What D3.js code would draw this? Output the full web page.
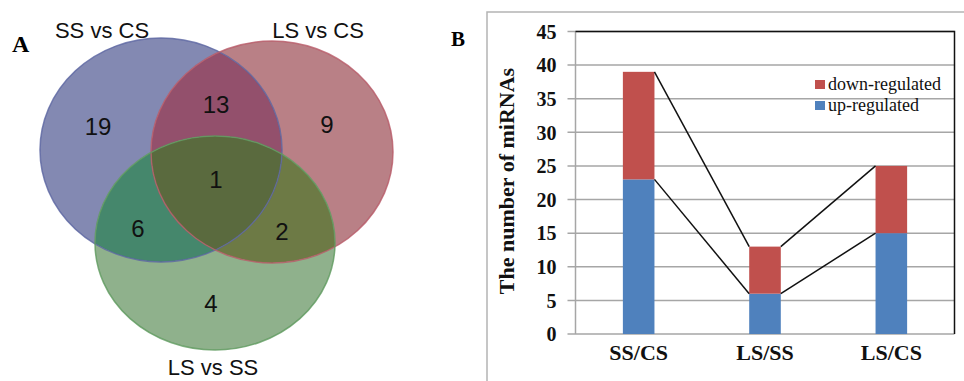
<!DOCTYPE html>
<html>
<head>
<meta charset="utf-8">
<script src="https://cdn.jsdelivr.net/npm/d3@7"></script>
<style>
  body { margin: 0; background: #fff; }
  svg { display: block; }
  .venn-label { font-family: "Liberation Sans", Arial, sans-serif; font-size: 22px; fill: #111; }
  .venn-count { font-family: "Liberation Sans", Arial, sans-serif; font-size: 24px; fill: #111; }
  .panel-tag { font-family: "Liberation Serif", "Times New Roman", serif; font-weight: bold; }
  .serif-b { font-family: "Liberation Serif", "Times New Roman", serif; font-weight: bold; }
  .serif { font-family: "Liberation Serif", "Times New Roman", serif; }
</style>
</head>
<body>
<svg id="chart" width="964" height="381"></svg>
<script>
// Venn diagram (panel A)
const vennSets = ["SS vs CS", "LS vs CS", "LS vs SS"];
const vennRegions = [[0], [1], [2], [0, 1], [0, 2], [1, 2], [0, 1, 2]];
const vennCounts = [19, 9, 4, 13, 6, 2, 1];

// Stacked bars (panel B)
const categories = ["SS/CS", "LS/SS", "LS/CS"];
const upRegulated = [23, 6, 15];
const downRegulated = [16, 7, 10];
const seriesNames = ["up-regulated", "down-regulated"];
const yTicks = [0, 5, 10, 15, 20, 25, 30, 35, 40, 45];

const svg = d3.select("#chart");
const defs = svg.append("defs");

// ---------- panel A ----------
const ellipses = [
  {cx: 161, cy: 150, rx: 121, ry: 112, stroke: "#5a64a0"},
  {cx: 272, cy: 152, rx: 121, ry: 111, stroke: "#b85a68"},
  {cx: 215, cy: 243, rx: 120, ry: 107, stroke: "#5e9a5e"}
];
// fill of each region, same order as vennRegions
const regionFill = ["#8389b2", "#b98086", "#8fb18c", "#93506c", "#45876c", "#6d7a45", "#5a6a3e"];
// where each count sits (centre x, baseline y)
const countPos = [[98, 135], [327, 133], [211, 312], [216, 113], [138, 237], [282, 240], [216, 188]];
const labelPos = [[102, 38], [318, 38], [213, 375]];

ellipses.forEach((e, i) => {
  defs.append("clipPath").attr("id", "clip-" + i)
    .append("ellipse").attr("cx", e.cx).attr("cy", e.cy).attr("rx", e.rx).attr("ry", e.ry);
  const m = defs.append("mask").attr("id", "not-" + i)
    .attr("maskUnits", "userSpaceOnUse").attr("x", 0).attr("y", 0).attr("width", 964).attr("height", 381);
  m.append("rect").attr("width", 964).attr("height", 381).attr("fill", "#fff");
  m.append("ellipse").attr("cx", e.cx).attr("cy", e.cy).attr("rx", e.rx).attr("ry", e.ry).attr("fill", "#000");
});

const venn = svg.append("g");
vennRegions.forEach((inside, r) => {
  const outside = [0, 1, 2].filter(k => !inside.includes(k));
  let g = venn.append("g");
  inside.slice(1).forEach(k => { g = g.append("g").attr("clip-path", `url(#clip-${k})`); });
  outside.forEach(k => { g = g.append("g").attr("mask", `url(#not-${k})`); });
  const e = ellipses[inside[0]];
  g.append("ellipse").attr("cx", e.cx).attr("cy", e.cy).attr("rx", e.rx).attr("ry", e.ry)
    .attr("fill", regionFill[r]);
});

venn.selectAll(".outline").data(ellipses).enter().append("ellipse")
  .attr("class", "outline")
  .attr("cx", d => d.cx).attr("cy", d => d.cy).attr("rx", d => d.rx).attr("ry", d => d.ry)
  .attr("fill", "none").attr("stroke", d => d.stroke).attr("stroke-width", 1.5).attr("stroke-opacity", 0.8);

venn.selectAll(".venn-count").data(vennCounts).enter().append("text")
  .attr("class", "venn-count")
  .attr("x", (d, i) => countPos[i][0]).attr("y", (d, i) => countPos[i][1])
  .attr("text-anchor", "middle")
  .text(d => d);

venn.selectAll(".venn-label").data(vennSets).enter().append("text")
  .attr("class", "venn-label")
  .attr("x", (d, i) => labelPos[i][0]).attr("y", (d, i) => labelPos[i][1])
  .attr("text-anchor", "middle")
  .text(d => d);

svg.append("text").attr("class", "panel-tag").attr("font-size", 24).attr("x", 12).attr("y", 52).text("A");

// ---------- panel B ----------
svg.append("text").attr("class", "panel-tag").attr("font-size", 21).attr("x", 451).attr("y", 46).text("B");

// outer frame
svg.append("path").attr("d", "M487,381V12H964")
  .attr("fill", "none").attr("stroke", "#b4b4b4").attr("stroke-width", 1.5);

const plot = {left: 575.5, right: 954.5, top: 31.5, bottom: 334};

const x = d3.scaleBand().domain(categories)
  .range([plot.left, plot.right]).paddingInner(0.75).paddingOuter(0.375);
const y = d3.scaleLinear().domain([0, 45]).range([plot.bottom, plot.top]);

const grid = svg.append("g");
grid.selectAll("line").data(yTicks).enter().append("line")
  .attr("x1", plot.left - 8).attr("x2", plot.right)
  .attr("y1", d => y(d)).attr("y2", d => y(d))
  .attr("stroke", "#a6a6a6").attr("stroke-width", 1.5);
// left axis
svg.append("line").attr("x1", plot.left).attr("x2", plot.left)
  .attr("y1", plot.top).attr("y2", plot.bottom)
  .attr("stroke", "#a6a6a6").attr("stroke-width", 1.5);
// top and right border
svg.append("path").attr("d", `M${plot.left},${plot.top}H${plot.right}V${plot.bottom}`)
  .attr("fill", "none").attr("stroke", "#111").attr("stroke-width", 1.5);

const yAxis = svg.append("g").attr("transform", `translate(${plot.left - 19},0)`)
  .call(d3.axisLeft(y).tickValues(yTicks).tickSize(0).tickPadding(0));
yAxis.select(".domain").remove();
yAxis.selectAll("text").attr("class", "serif-b").attr("font-size", 20).attr("fill", "#111")
  .attr("dy", "0.34em");

const table = categories.map((c, i) => ({cat: c, "up-regulated": upRegulated[i], "down-regulated": downRegulated[i]}));
const stacked = d3.stack().keys(seriesNames)(table);
const colors = {"up-regulated": "#4f81bd", "down-regulated": "#c0504d"};

svg.append("g").selectAll("g").data(stacked).enter().append("g")
  .attr("fill", d => colors[d.key])
  .selectAll("rect").data(d => d).enter().append("rect")
  .attr("x", d => x(d.data.cat))
  .attr("width", x.bandwidth())
  .attr("y", d => y(d[1]))
  .attr("height", d => y(d[0]) - y(d[1]));

// connecting lines between the tops of each segment
const links = svg.append("g");
stacked.forEach(s => {
  for (let i = 0; i < categories.length - 1; i++) {
    links.append("line")
      .attr("x1", x(categories[i]) + x.bandwidth()).attr("y1", y(s[i][1]))
      .attr("x2", x(categories[i + 1])).attr("y2", y(s[i + 1][1]))
      .attr("stroke", "#111").attr("stroke-width", 1.5);
  }
});

const xAxis = svg.append("g").attr("transform", `translate(0,${plot.bottom + 26})`)
  .call(d3.axisBottom(x).tickSize(0).tickPadding(0));
xAxis.select(".domain").remove();
xAxis.selectAll("text").attr("class", "serif-b").attr("font-size", 22).attr("fill", "#111")
  .attr("dy", 0);

svg.append("text").attr("class", "serif-b").attr("font-size", 22).attr("fill", "#111")
  .attr("text-anchor", "middle")
  .attr("transform", `translate(514,181) rotate(-90)`)
  .text("The number of miRNAs");

// legend, down-regulated listed first
const legend = svg.append("g").selectAll("g").data(seriesNames.slice().reverse()).enter().append("g")
  .attr("transform", (d, i) => `translate(815,${80 + i * 21})`);
legend.append("rect").attr("width", 10).attr("height", 9).attr("fill", d => colors[d]);
legend.append("text").attr("class", "serif").attr("font-size", 18).attr("fill", "#111")
  .attr("x", 13).attr("y", 10).text(d => d);
</script>
</body>
</html>
